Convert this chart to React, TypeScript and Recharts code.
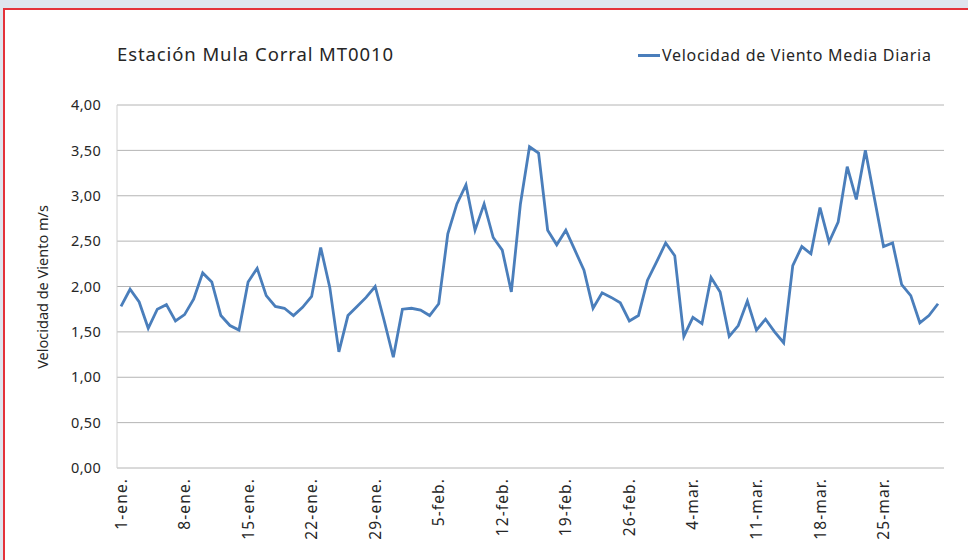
import React from 'react';
import { LineChart, Line, XAxis, YAxis, CartesianGrid } from 'recharts';

const dias = [
  "1-ene.","2-ene.","3-ene.","4-ene.","5-ene.","6-ene.","7-ene.","8-ene.","9-ene.","10-ene.",
  "11-ene.","12-ene.","13-ene.","14-ene.","15-ene.","16-ene.","17-ene.","18-ene.","19-ene.","20-ene.",
  "21-ene.","22-ene.","23-ene.","24-ene.","25-ene.","26-ene.","27-ene.","28-ene.","29-ene.","30-ene.","31-ene.",
  "1-feb.","2-feb.","3-feb.","4-feb.","5-feb.","6-feb.","7-feb.","8-feb.","9-feb.","10-feb.",
  "11-feb.","12-feb.","13-feb.","14-feb.","15-feb.","16-feb.","17-feb.","18-feb.","19-feb.","20-feb.",
  "21-feb.","22-feb.","23-feb.","24-feb.","25-feb.","26-feb.","27-feb.","28-feb.","29-feb.",
  "1-mar.","2-mar.","3-mar.","4-mar.","5-mar.","6-mar.","7-mar.","8-mar.","9-mar.","10-mar.",
  "11-mar.","12-mar.","13-mar.","14-mar.","15-mar.","16-mar.","17-mar.","18-mar.","19-mar.","20-mar.",
  "21-mar.","22-mar.","23-mar.","24-mar.","25-mar.","26-mar.","27-mar.","28-mar.","29-mar.","30-mar.","31-mar."
];

const velocidad = [
  1.78, 1.97, 1.83, 1.54, 1.75, 1.80, 1.62, 1.69, 1.86, 2.15,
  2.05, 1.68, 1.57, 1.52, 2.05, 2.20, 1.90, 1.78, 1.76, 1.68,
  1.77, 1.89, 2.43, 1.99, 1.28, 1.68, 1.78, 1.88, 2.00, 1.62,
  1.22, 1.75, 1.76, 1.74, 1.68, 1.81, 2.58, 2.91, 3.12, 2.62,
  2.91, 2.54, 2.40, 1.94, 2.91, 3.54, 3.47, 2.62, 2.46, 2.62,
  2.40, 2.18, 1.76, 1.93, 1.88, 1.82, 1.62, 1.68, 2.07, 2.27,
  2.48, 2.34, 1.45, 1.66, 1.59, 2.10, 1.94, 1.45, 1.57, 1.84,
  1.52, 1.64, 1.50, 1.38, 2.23, 2.44, 2.36, 2.87, 2.49, 2.71,
  3.32, 2.96, 3.50, 2.97, 2.44, 2.48, 2.02, 1.90, 1.60, 1.68,
  1.81
];

const yTicks = [0, 0.5, 1, 1.5, 2, 2.5, 3, 3.5, 4];

const titulo = "Estación Mula Corral MT0010";
const serieNombre = "Velocidad de Viento Media Diaria";
const ejeY = "Velocidad de Viento m/s";

const data = dias.map((d, i) => ({ dia: d, v: velocidad[i] }));

const FONT = "'Noto Sans', 'Open Sans', sans-serif";
const LINE_COLOR = "#4a7ebb";

const XTick = (props: any) => {
  const { x, y, payload } = props;
  return (
    <g transform={`translate(${x},${y})`}>
      <text transform="rotate(-90)" textAnchor="end" dy="0.36em" x={0} y={0}
        fill="#262626" fontSize={15.5} letterSpacing={1.1} fontFamily={FONT}>{payload.value}</text>
    </g>
  );
};

const YTick = (props: any) => {
  const { y, payload } = props;
  return (
    <text x={101} y={y} dy="0.36em" textAnchor="end" fill="#262626" fontSize={14.5} letterSpacing={0.3} fontFamily={FONT}>
      {payload.value.toFixed(2).replace('.', ',')}
    </text>
  );
};

export default function App() {
  return (
    <div style={{ position: 'absolute', left: 0, top: 0, width: 968, height: 560, overflow: 'hidden', background: '#dfe5ee' }}>
      <div style={{ position: 'absolute', left: 3, top: 8, width: 990, height: 580, border: '2px solid #e4323a', background: '#ffffff', boxSizing: 'border-box' }} />
      <div style={{ position: 'absolute', left: 0, top: 0 }}>
        <LineChart width={968} height={560} data={data} margin={{ top: 105, right: 24, bottom: 20, left: 0 }}>
          <CartesianGrid vertical={false} stroke="#b4b4b4" />
          <XAxis dataKey="dia" interval={6} tick={<XTick />} tickLine={false} axisLine={false}
            height={72} tickMargin={0} tickSize={10} padding={{ left: 4, right: 6 }} />
          <YAxis domain={[0, 4]} ticks={yTicks} tick={<YTick />} tickLine={false}
            axisLine={{ stroke: '#d0d0d0' }} width={117} />
          <Line type="linear" dataKey="v" stroke={LINE_COLOR} strokeWidth={2.8} dot={false} isAnimationActive={false} />
        </LineChart>
      </div>
      <div style={{ position: 'absolute', left: 117, top: 41, fontFamily: FONT, fontSize: 18.5, letterSpacing: 0.9, color: '#262626', whiteSpace: 'nowrap', lineHeight: '26px' }}>{titulo}</div>
      <div style={{ position: 'absolute', left: 638, top: 54, width: 22, height: 2.8, background: LINE_COLOR }} />
      <div style={{ position: 'absolute', left: 662, top: 44, fontFamily: FONT, fontSize: 16, letterSpacing: 0.7, color: '#262626', whiteSpace: 'nowrap', lineHeight: '22px' }}>{serieNombre}</div>
      <div style={{ position: 'absolute', left: 42, top: 287, transform: 'translate(-50%, -50%) rotate(-90deg)', fontFamily: FONT, fontSize: 14.5, color: '#262626', whiteSpace: 'nowrap' }}>{ejeY}</div>
    </div>
  );
}
